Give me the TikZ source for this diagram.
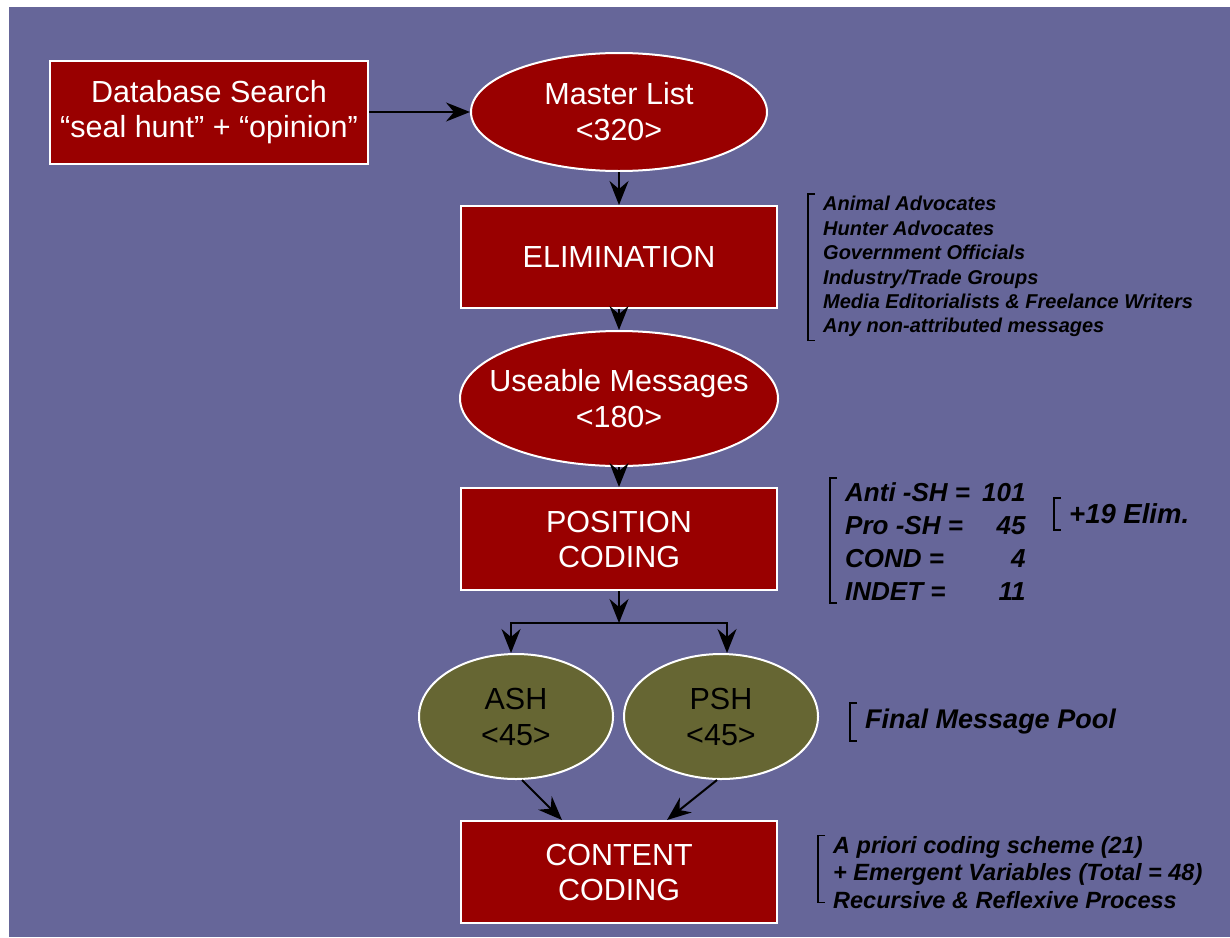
\documentclass[tikz,border=0pt]{standalone}
\usepackage{fontspec}
\setmainfont{Liberation Sans}
\usetikzlibrary{positioning,shapes.geometric,arrows.meta,calc}
\definecolor{slidePurple}{RGB}{102,102,153}
\definecolor{boxRed}{RGB}{153,0,0}
\definecolor{ovalOlive}{RGB}{102,102,51}
\tikzset{
  redbox/.style={rectangle,draw=white,line width=2pt,fill=boxRed,text=white,
    minimum width=316pt,minimum height=102pt,align=center,
    font=\fontsize{30.5}{35}\selectfont},
  oval/.style={ellipse,draw=white,line width=2pt,inner xsep=-40pt,align=center,
    font=\fontsize{30.5}{36}\selectfont},
  redoval/.style={oval,fill=boxRed,text=white},
  oliveoval/.style={oval,fill=ovalOlive,text=black,minimum width=194pt,minimum height=125pt},
  arrow/.style={-{Stealth[length=24pt,width=19pt,inset=8pt]},draw=black,line width=2pt},
  listtext/.style={anchor=west,inner sep=0pt,text=black},
  brk/.style={draw=black,line width=1.8pt}
}
\begin{document}
\begin{tikzpicture}[x=1pt,y=1pt]
  \useasboundingbox (0,0) rectangle (1230,-937);
  \fill[slidePurple] (9,-7) rectangle (1230,-937);
  % main flow
  \node[redoval, minimum width=296pt, minimum height=118pt] (master) at (619,-112)
    {Master List\\<320>};
  \node[redbox, minimum width=318pt, minimum height=103pt, left=101pt of master] (search)
    {Database Search\\“seal hunt” + “opinion”};
  \node[redbox, below=33pt of master] (elim) {ELIMINATION};
  \node[redoval, minimum width=318pt, minimum height=135pt, below=21pt of elim] (useable)
    {Useable Messages\\<180>};
  \node[redbox, below=20pt of useable] (poscoding) {POSITION\\CODING};
  \node[oliveoval] (ash) at (516,-716.5) {ASH\\<45>};
  \node[oliveoval, right=9pt of ash] (psh) {PSH\\<45>};
  \node[redbox, below=229pt of poscoding] (content) {CONTENT\\CODING};
  \coordinate (split) at ($(poscoding.south)+(0,-32)$);
  \draw[arrow] (search) -- (master);
  \draw[arrow] (master) -- (elim);
  \draw[arrow] (elim) -- (useable);
  \draw[arrow] (useable) -- (poscoding);
  \draw[arrow] (poscoding) -- (split);
  \draw[arrow] (split) -| ([xshift=-5pt]ash.north);
  \draw[arrow] (split) -| ([xshift=6pt]psh.north);
  \draw[arrow] ([xshift=6pt]ash.south) -- ([xshift=-57pt]content.north);
  \draw[arrow] ([xshift=-4pt]psh.south) -- ([xshift=48pt]content.north);
  % side notes
  \node[listtext, font=\bfseries\itshape\fontsize{20}{24.4}\selectfont] (elimlist) at (823,-267)
    {\begin{tabular}{@{}l@{}}
      Animal Advocates\\
      Hunter Advocates\\
      Government Officials\\
      Industry/Trade Groups\\
      Media Editorialists \& Freelance Writers\\
      Any non-attributed messages
    \end{tabular}};
  \draw[brk] ([xshift=-8pt]elimlist.north west) -- ++(-7,0) |- ([xshift=-8pt]elimlist.south west);
  \node[listtext, font=\bfseries\itshape\fontsize{26}{33}\selectfont] (poslist) at (845,-544)
    {\begin{tabular}{@{}l@{\hspace{12pt}}r@{}}
      Anti -SH = & 101\\
      Pro -SH = & 45\\
      COND = & 4\\
      INDET = & 11
    \end{tabular}};
  \draw[brk] ([xshift=-8pt]poslist.north west) -- ++(-7,0) |- ([xshift=-8pt,yshift=7pt]poslist.south west);
  \node[listtext, inner ysep=6pt, font=\bfseries\itshape\fontsize{27.5}{30}\selectfont] (elimnote)
    at (1069,-514) {+19 Elim.};
  \draw[brk] ([xshift=-8pt]elimnote.north west) -- ++(-7,0) |- ([xshift=-8pt]elimnote.south west);
  \node[listtext, inner ysep=6pt, font=\bfseries\itshape\fontsize{27}{30}\selectfont] (pool)
    at (865,-722) {Final Message Pool};
  \draw[brk] ([xshift=-8pt]pool.north west) -- ++(-7,0) |- ([xshift=-8pt]pool.south west);
  \node[listtext, font=\bfseries\itshape\fontsize{23.5}{27.5}\selectfont] (contlist) at (833,-875)
    {\begin{tabular}{@{}l@{}}
      A priori coding scheme (21)\\
      + Emergent Variables (Total = 48)\\
      Recursive \& Reflexive Process
    \end{tabular}};
  \draw[brk] ([xshift=-8pt,yshift=-2pt]contlist.north west) -- ++(-7,0) |- ([xshift=-8pt,yshift=14pt]contlist.south west);
\end{tikzpicture}
\end{document}
